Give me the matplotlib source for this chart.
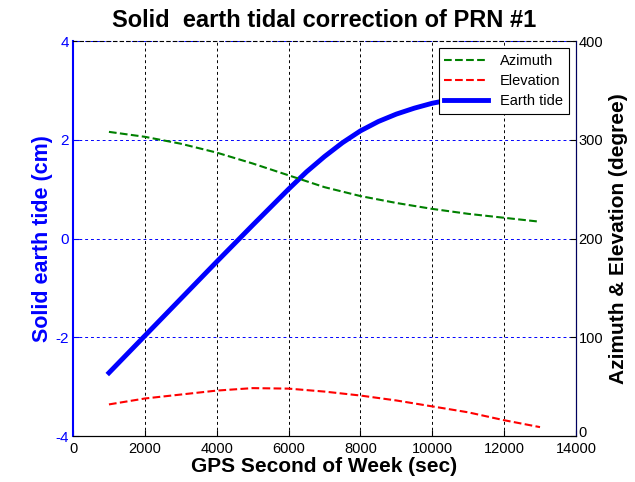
import numpy as np
import matplotlib
matplotlib.use('Agg')
import matplotlib.pyplot as plt
import matplotlib.transforms as mtransforms

plt.rcParams['font.family'] = ['Liberation Sans', 'DejaVu Sans']
plt.rcParams['axes.unicode_minus'] = False

# GPS second of week (sec)
sec = [1000, 2000, 3000, 4000, 5000, 6000, 6500, 7000, 7500, 8000, 8500, 9000,
       9500, 10000, 10500, 11000, 12000, 13000]
# solid earth tide (cm)
tide = [-2.72, -1.97, -1.22, -0.47, 0.27, 1.00, 1.35, 1.66, 1.94, 2.18, 2.37, 2.52,
        2.64, 2.74, 2.81, 2.86, 2.90, 2.88]
# azimuth / elevation (degree)
sec_ae = [1000, 2000, 3000, 4000, 5000, 6000, 7000, 8000, 9000, 10000, 11000, 12000, 13000]
azimuth = [308, 303, 296, 287, 276, 264, 252, 243, 236, 230, 225, 221, 217]
elevation = [32, 38, 42, 46, 48.5, 48, 45, 41, 36, 30, 24, 16, 9]

fig = plt.figure(figsize=(6.35, 4.82), dpi=100)
ax1 = fig.add_axes([0.115, 0.0954, 0.792, 0.8195])
ax2 = ax1.twinx()

# left axis: earth tide
l3, = ax1.plot(sec, tide, color='blue', lw=3.5, label='Earth tide')
ax1.set_xlim(0, 14000)
ax1.set_ylim(-4, 4)
ax1.set_xticks(np.arange(0, 14001, 2000))
ax1.set_yticks([-4, -2, 0, 2, 4])
ax1.xaxis.grid(True, color='k', ls=(0, (3, 3)), lw=0.7)
ax1.yaxis.grid(True, color='blue', ls=(0, (3, 3)), lw=0.7)
ax1.tick_params(axis='y', colors='blue', direction='in', length=4, labelsize=11, pad=3)
ax1.tick_params(axis='x', direction='in', length=4, labelsize=10.5, pad=4)
ax1.set_ylabel('Solid earth tide (cm)', color='blue', fontsize=15.5, fontweight='bold', labelpad=2)
ax1.set_xlabel('GPS Second of Week (sec)', fontsize=15, fontweight='bold', labelpad=1)
ax1.spines['left'].set_color('blue')
ax1.spines['left'].set_linewidth(1.5)
ax1.spines['top'].set_linestyle((0, (3, 3)))

# right axis: azimuth & elevation
l1, = ax2.plot(sec_ae, azimuth, color='#008000', ls='--', lw=1.5, label='Azimuth')
l2, = ax2.plot(sec_ae, elevation, color='red', ls='--', lw=1.5, label='Elevation')
ax2.set_ylim(0, 400)
ax2.set_yticks([0, 100, 200, 300, 400])
ax2.tick_params(axis='y', colors='black', direction='in', length=4, labelsize=10.5, pad=2)
ax2.spines['right'].set_color('#000060')
ax2.spines['left'].set_visible(False)
ax2.spines['top'].set_visible(False)
ax2.set_ylabel('Azimuth & Elevation (degree)', fontsize=15, fontweight='bold', labelpad=4)

# lift the right "0" label a little so it clears "14000"
fig.canvas.draw()
lab0 = ax2.get_yticklabels()[0]
lab0.set_transform(lab0.get_transform() + mtransforms.ScaledTranslation(0, 5 / 100, fig.dpi_scale_trans))

leg = ax2.legend(handles=[l1, l2, l3], loc='upper right', fontsize=10.5,
                 fancybox=False, edgecolor='black', framealpha=1,
                 borderaxespad=0.5, handlelength=3, labelspacing=0.4)
leg.get_frame().set_linewidth(0.8)

ax1.set_title('Solid  earth tidal correction of PRN #1', fontsize=17, fontweight='bold', pad=10)

fig.savefig('out.png', dpi=100)
